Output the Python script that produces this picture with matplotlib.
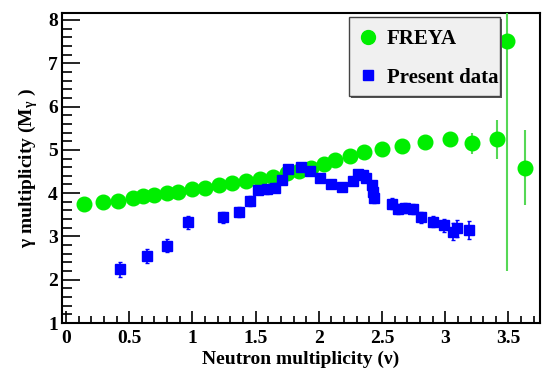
import matplotlib
matplotlib.use("Agg")
import matplotlib.pyplot as plt
from matplotlib.ticker import MultipleLocator
from matplotlib.lines import Line2D
from matplotlib.patches import Rectangle

plt.rcParams['font.family'] = ['Liberation Serif', 'DejaVu Serif']
plt.rcParams['font.weight'] = 'bold'
plt.rcParams['mathtext.fontset'] = 'custom'
plt.rcParams['mathtext.rm'] = 'Liberation Serif:bold'
plt.rcParams['mathtext.it'] = 'Liberation Serif:bold'
plt.rcParams['mathtext.bf'] = 'Liberation Serif:bold'

# FREYA
freya_x = [0.14, 0.295, 0.41, 0.53, 0.61, 0.70, 0.80, 0.89, 1.00, 1.10, 1.21, 1.31,
           1.425, 1.535, 1.64, 1.745, 1.84, 1.94, 2.04, 2.13, 2.245, 2.36, 2.50, 2.66,
           2.84, 3.04, 3.21, 3.41, 3.49, 3.63]
freya_y = [3.75, 3.80, 3.82, 3.88, 3.93, 3.95, 4.00, 4.03, 4.09, 4.12, 4.18, 4.24,
           4.28, 4.33, 4.38, 4.47, 4.52, 4.59, 4.67, 4.76, 4.86, 4.94, 5.01, 5.09,
           5.19, 5.26, 5.15, 5.24, 7.51, 4.59]
freya_err = [0.12, 0.05, 0.05, 0.05, 0.05, 0.05, 0.05, 0.05, 0.05, 0.05, 0.05, 0.05,
             0.05, 0.05, 0.05, 0.05, 0.05, 0.05, 0.05, 0.05, 0.05, 0.05, 0.05, 0.05,
             0.06, 0.08, 0.25, 0.46, 5.3, 0.87]

# Present data
data_x = [0.427, 0.645, 0.80, 0.965, 1.245, 1.37, 1.455, 1.52, 1.587, 1.65, 1.71, 1.76,
          1.86, 1.93, 2.01, 2.10, 2.18, 2.27, 2.31, 2.35, 2.37, 2.42, 2.43, 2.44,
          2.575, 2.63, 2.685, 2.745, 2.81, 2.90, 2.99, 3.06, 3.09, 3.19]
data_y = [2.24, 2.55, 2.78, 3.33, 3.44, 3.57, 3.82, 4.07, 4.09, 4.13, 4.30, 4.56,
          4.61, 4.52, 4.34, 4.20, 4.14, 4.29, 4.44, 4.42, 4.36, 4.19, 4.03, 3.88,
          3.76, 3.63, 3.66, 3.63, 3.44, 3.34, 3.26, 3.11, 3.19, 3.15]
data_err = [0.17, 0.16, 0.15, 0.15, 0.13, 0.12, 0.12, 0.1, 0.1, 0.1, 0.1, 0.08,
            0.08, 0.08, 0.08, 0.08, 0.08, 0.08, 0.08, 0.08, 0.08, 0.08, 0.08, 0.1,
            0.12, 0.12, 0.12, 0.12, 0.12, 0.13, 0.15, 0.2, 0.2, 0.2]

GREEN = '#00ee00'
BLUE = '#0000ff'

fig = plt.figure(figsize=(5.45, 3.73), dpi=100)
ax = fig.add_axes([0.114, 0.134, 0.877, 0.831])

ax.errorbar(freya_x, freya_y, yerr=freya_err, fmt='o', color=GREEN,
            ecolor='#55d855', elinewidth=1.5, markersize=10.5, capsize=0, zorder=3)
ax.errorbar(data_x, data_y, yerr=data_err, fmt='s', color=BLUE,
            ecolor=BLUE, elinewidth=1.2, markersize=7, capsize=1.5, zorder=4)

ax.set_xlim(-0.03, 3.75)
ax.set_ylim(1, 8.16)
ax.xaxis.set_major_locator(MultipleLocator(0.5))
ax.xaxis.set_minor_locator(MultipleLocator(0.1))
ax.yaxis.set_major_locator(MultipleLocator(1))
ax.yaxis.set_minor_locator(MultipleLocator(0.2))
ax.tick_params(axis='both', which='both', direction='in', top=False, right=False,
               labelsize=14, width=1.2)
ax.tick_params(axis='x', which='major', length=9, pad=5)
ax.tick_params(axis='x', which='minor', length=5)
ax.tick_params(axis='y', which='major', length=13, pad=3)
ax.tick_params(axis='y', which='minor', length=7)
ax.xaxis.set_major_formatter(matplotlib.ticker.FuncFormatter(lambda v, p: ('%g' % v)))
for lab in ax.get_xticklabels() + ax.get_yticklabels():
    lab.set_fontweight('bold')
for s in ax.spines.values():
    s.set_linewidth(1.5)

ax.set_xlabel('Neutron multiplicity (ν)', fontsize=14, fontweight='bold', labelpad=3)
ax.set_ylabel('γ multiplicity (M$_{γ}$ )', fontsize=14, fontweight='bold', labelpad=6)

# legend box (drawn as a panel with a thin shadow)
bx0, by0, bw, bh = 0.600, 0.732, 0.316, 0.255
shadow = Rectangle((bx0 + 0.004, by0 - 0.006), bw, bh, transform=ax.transAxes,
                   facecolor='#555555', edgecolor='none', zorder=5)
panel = Rectangle((bx0, by0), bw, bh, transform=ax.transAxes,
                  facecolor='#f0f0f0', edgecolor='#444444', linewidth=1.0, zorder=6)
ax.add_patch(shadow)
ax.add_patch(panel)

handles = [Line2D([], [], marker='o', linestyle='none', color=GREEN, markersize=10),
           Line2D([], [], marker='s', linestyle='none', color=BLUE, markersize=7)]
leg = ax.legend(handles, ['FREYA', 'Present data'], loc='upper left',
                bbox_to_anchor=(0.619, 0.949),
                prop={'weight': 'bold', 'size': 15}, frameon=False,
                borderpad=0.0, labelspacing=0.9, handletextpad=0.38,
                handlelength=1.0, borderaxespad=0)
leg.set_zorder(7)

fig.savefig('out.png', dpi=100)
